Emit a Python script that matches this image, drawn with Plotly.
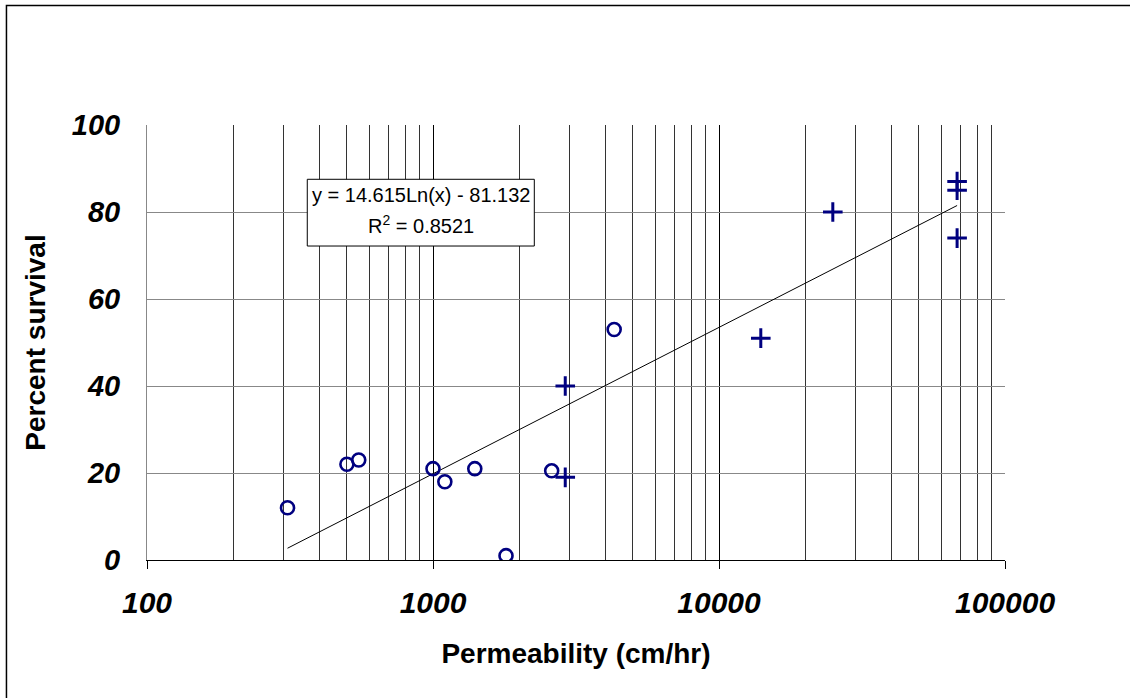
import numpy as np
import plotly.graph_objects as go

# Data
circle_perm = [310, 500, 550, 1000, 1100, 1400, 1800, 2600, 4300]
circle_surv = [12, 22, 23, 21, 18, 21, 1, 20.5, 53]
cross_perm = [2900, 2900, 14000, 25000, 68000, 68000, 68000]
cross_surv = [40, 19, 51, 80, 87, 85, 74]

trend_a = 14.615
trend_b = -81.132
trend_label = "y = 14.615Ln(x) - 81.132"
r2_label = "R<sup>2</sup> = 0.8521"

x_major = [100, 1000, 10000, 100000]
x_major_text = ["100", "1000", "10000", "100000"]
x_minor = [m * d for d in (100, 1000, 10000) for m in range(2, 10)]
y_ticks = [0, 20, 40, 60, 80, 100]

FONT = "Arial, 'Liberation Sans', sans-serif"
NAVY = "#000080"

all_x = circle_perm + cross_perm
tx = np.logspace(np.log10(min(all_x)), np.log10(max(all_x)), 200)
ty = trend_a * np.log(tx) + trend_b

fig = go.Figure()
fig.add_trace(go.Scatter(x=tx, y=ty, mode="lines",
                         line=dict(color="black", width=1), hoverinfo="skip"))
fig.add_trace(go.Scatter(x=circle_perm, y=circle_surv, mode="markers",
                         marker=dict(symbol="circle-open", size=13,
                                     color=NAVY, line=dict(width=2.6, color=NAVY))))
fig.add_trace(go.Scatter(x=cross_perm, y=cross_surv, mode="markers",
                         marker=dict(symbol="cross-thin-open", size=14,
                                     color=NAVY, line=dict(width=3, color=NAVY))))

fig.update_layout(
    width=1130, height=698,
    margin=dict(l=147, r=125, t=125, b=138),
    paper_bgcolor="white", plot_bgcolor="white",
    showlegend=False,
    font=dict(family=FONT, color="black"),
)

fig.update_xaxes(
    type="log", range=[2, 5],
    tickmode="array", tickvals=x_major, ticktext=x_major_text,
    tickfont=dict(size=30, family=FONT, weight="bold", style="italic"),
    ticks="outside", ticklen=8, tickcolor="black", tickwidth=1,
    ticklabelstandoff=8,
    showgrid=True, gridcolor="#000000", gridwidth=1,
    minor=dict(tickvals=x_minor, showgrid=True, gridcolor="#333333", gridwidth=1, ticks=""),
    showline=True, linecolor="black", linewidth=1,
    zeroline=False,
    title=dict(text="Permeability (cm/hr)", font=dict(size=28, family=FONT, weight="bold"),
               standoff=25),
)
fig.update_yaxes(
    range=[0, 100],
    tickmode="array", tickvals=y_ticks,
    tickfont=dict(size=29, family=FONT, weight="bold", style="italic"),
    ticks="", ticklabelstandoff=20,
    showgrid=True, gridcolor="#888888", gridwidth=1,
    showline=True, linecolor="#888888", linewidth=1,
    zeroline=False,
    title=dict(text="Percent survival", font=dict(size=28, family=FONT, weight="bold"),
               standoff=18),
)

# Equation box
fig.add_shape(type="rect", xref="paper", yref="paper",
              x0=0.1868, x1=0.4514, y0=0.7218, y1=0.8752,
              line=dict(color="black", width=1), fillcolor="white", layer="above")
fig.add_annotation(xref="paper", yref="paper", x=0.3191, y=0.8391,
                   text=trend_label, showarrow=False, xanchor="center", yanchor="middle",
                   font=dict(size=20, family=FONT, color="black"))
fig.add_annotation(xref="paper", yref="paper", x=0.3191, y=0.772,
                   text=r2_label, showarrow=False, xanchor="center", yanchor="middle",
                   font=dict(size=20, family=FONT, color="black"))

# Outer chart border
fig.add_shape(type="rect", xref="paper", yref="paper",
              x0=-0.1638, x1=1.16, y0=-0.34, y1=1.2747,
              line=dict(color="black", width=1.5), fillcolor="rgba(0,0,0,0)", layer="above")

fig.write_html("out.html", config={"displayModeBar": False},
               post_script="document.body.style.margin='0';")
